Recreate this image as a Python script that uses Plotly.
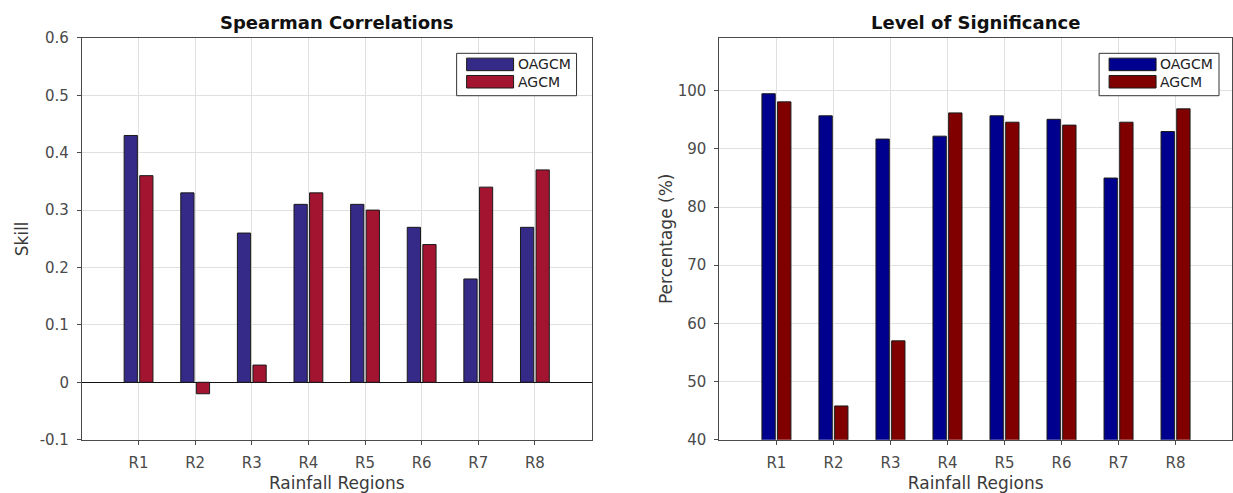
import plotly.graph_objects as go

# Rainfall regions and skill metrics for the two model configurations
regions = ["R1", "R2", "R3", "R4", "R5", "R6", "R7", "R8"]
corr_oagcm = [0.43, 0.33, 0.26, 0.31, 0.31, 0.27, 0.18, 0.27]
corr_agcm = [0.36, -0.02, 0.03, 0.33, 0.30, 0.24, 0.34, 0.37]
sig_oagcm = [99.5, 95.7, 91.7, 92.2, 95.7, 95.1, 85.0, 93.0]
sig_agcm = [98.1, 45.8, 57.0, 96.2, 94.6, 94.1, 94.6, 96.9]
corr_ticks = [-0.1, 0, 0.1, 0.2, 0.3, 0.4, 0.5, 0.6]
corr_ticklabels = ["-0.1", "0", "0.1", "0.2", "0.3", "0.4", "0.5", "0.6"]
sig_ticks = [40, 50, 60, 70, 80, 90, 100]
series_names = ["OAGCM", "AGCM"]

FONT = "DejaVu Sans"
TICK_COLOR = "#4a4a4a"
LABEL_COLOR = "#3a3a3a"
GRID = "#e0e0e0"
AXLINE = "#4a4a4a"
LEFT_COLORS = ["#352A87", "#A2142F"]
RIGHT_COLORS = ["#00008F", "#800000"]

W, H = 1233, 493
L1, R1 = 82, 592
L2, R2 = 720, 1233
TOP, BOT = 30, 447


def px_x(p):
    return p / W


def px_y(p):
    return (H - p) / H


idx = list(range(len(regions)))
bar_line = dict(color="#1a1a1a", width=1)

fig = go.Figure()
for vals, name, col in zip([corr_oagcm, corr_agcm], series_names, LEFT_COLORS):
    fig.add_trace(go.Bar(x=idx, y=vals, name=name, marker=dict(color=col, line=bar_line),
                         xaxis="x", yaxis="y", showlegend=False))
for vals, name, col in zip([sig_oagcm, sig_agcm], series_names, RIGHT_COLORS):
    fig.add_trace(go.Bar(x=idx, y=vals, name=name, marker=dict(color=col, line=bar_line),
                         xaxis="x2", yaxis="y2", showlegend=False))

ydom = [px_y(BOT), px_y(TOP)]

common_x = dict(
    tickmode="array", tickvals=idx, ticktext=regions, range=[-1, 8],
    showgrid=True, gridcolor=GRID, gridwidth=1,
    showline=True, linecolor=AXLINE, linewidth=1, mirror=True,
    ticks="outside", ticklen=4, tickcolor=AXLINE, ticklabelstandoff=5,
    tickfont=dict(family=FONT, size=15, color=TICK_COLOR),
    title=dict(text="Rainfall Regions", font=dict(family=FONT, size=17, color=LABEL_COLOR), standoff=7),
    zeroline=False,
)
common_y = dict(
    showgrid=True, gridcolor=GRID, gridwidth=1,
    showline=True, linecolor=AXLINE, linewidth=1, mirror=True,
    ticks="outside", ticklen=4, tickcolor=AXLINE, ticklabelstandoff=5,
    tickfont=dict(family=FONT, size=15, color=TICK_COLOR),
    domain=ydom,
)

shapes = []
annotations = [
    dict(text="<b>Spearman Correlations</b>", x=px_x((L1 + R1) / 2), y=px_y(14),
         xref="paper", yref="paper", showarrow=False, xanchor="center", yanchor="middle",
         font=dict(family=FONT, size=18, color="#111111")),
    dict(text="<b>Level of Significance</b>", x=px_x((L2 + R2) / 2), y=px_y(14),
         xref="paper", yref="paper", showarrow=False, xanchor="center", yanchor="middle",
         font=dict(family=FONT, size=18, color="#111111")),
]


def add_legend(x0, colors):
    # boxed legend with wide rectangular swatches
    box_w, top, bottom = 120, 46, 90
    shapes.append(dict(type="rect", xref="paper", yref="paper",
                       x0=px_x(x0), x1=px_x(x0 + box_w), y0=px_y(bottom), y1=px_y(top),
                       line=dict(color="#333333", width=1), fillcolor="white", layer="above"))
    for k, (name, col) in enumerate(zip(series_names, colors)):
        sy0 = 51 + 18 * k
        shapes.append(dict(type="rect", xref="paper", yref="paper",
                           x0=px_x(x0 + 10), x1=px_x(x0 + 57), y0=px_y(sy0 + 13), y1=px_y(sy0),
                           line=dict(color="#1a1a1a", width=1), fillcolor=col, layer="above"))
        annotations.append(dict(text=name, x=px_x(x0 + 59), y=px_y(sy0 + 6.5),
                                xref="paper", yref="paper", showarrow=False,
                                xanchor="left", yanchor="middle",
                                font=dict(family=FONT, size=14, color="#222222")))


add_legend(457, LEFT_COLORS)
add_legend(1100, RIGHT_COLORS)

fig.update_layout(
    width=W, height=H,
    margin=dict(l=0, r=0, t=0, b=0),
    paper_bgcolor="white", plot_bgcolor="white",
    barmode="group", bargap=0.45, bargroupgap=0.15,
    font=dict(family=FONT, color=TICK_COLOR),
    showlegend=False,
    xaxis=dict(common_x, domain=[px_x(L1), px_x(R1)], anchor="y"),
    yaxis=dict(common_y, anchor="x", range=[-0.1, 0.6], tickvals=corr_ticks, ticktext=corr_ticklabels,
               zeroline=True, zerolinecolor="#111111", zerolinewidth=1,
               title=dict(text="Skill", font=dict(family=FONT, size=17, color=LABEL_COLOR), standoff=6)),
    xaxis2=dict(common_x, domain=[px_x(L2), px_x(R2)], anchor="y2", range=[-1, 7.99]),
    yaxis2=dict(common_y, anchor="x2", range=[40, 109.1], tickvals=sig_ticks, zeroline=False,
                title=dict(text="Percentage (%)", font=dict(family=FONT, size=17, color=LABEL_COLOR),
                           standoff=0)),
    shapes=shapes,
    annotations=annotations,
)

fig.write_html("out.html")
